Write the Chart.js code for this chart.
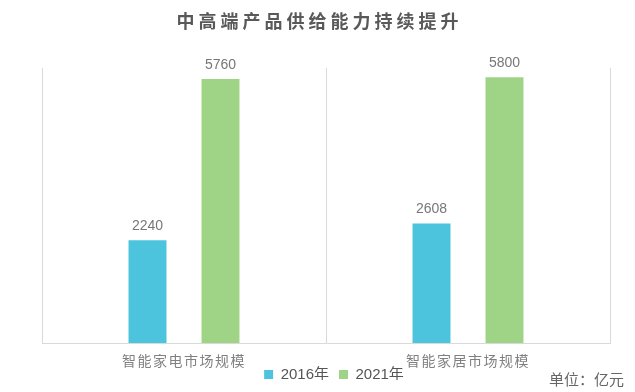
<!DOCTYPE html>
<html>
<head>
<meta charset="utf-8">
<script src="https://cdn.jsdelivr.net/npm/chart.js@4.4.1/dist/chart.umd.min.js"></script>
<style>
  html, body { margin: 0; padding: 0; background: #ffffff; }
  #wrap { position: relative; width: 635px; height: 392px; overflow: hidden; }
  #title { position: absolute; left: 0; width: 639px; top: 11px; text-align: center;
    font: 600 18px "Noto Sans CJK SC", sans-serif; line-height: 18px; letter-spacing: 4px; color: #595959; }
  #unit { position: absolute; right: 11px; top: 371px;
    font: 400 15px "Noto Sans CJK SC", sans-serif; line-height: 15px; color: #666666; }
  canvas { position: absolute; left: 0; top: 0; }
</style>
</head>
<body>
<div id="wrap">
  <canvas id="c" width="635" height="392"></canvas>
  <div id="title">中高端产品供给能力持续提升</div>
  <div id="unit">单位：亿元</div>
</div>
<script>
const categories = ['智能家电市场规模', '智能家居市场规模'];
const seriesNames = ['2016年', '2021年'];
const values2016 = [2240, 2608];
const values2021 = [5760, 5800];
const yMin = 0;
const yMax = 6000;

const valueLabels = {
  id: 'valueLabels',
  afterDatasetsDraw(chart) {
    const ctx = chart.ctx;
    ctx.save();
    ctx.letterSpacing = '0px';
    ctx.font = '14px "Liberation Sans", Arial, sans-serif';
    ctx.fillStyle = '#777777';
    ctx.textAlign = 'center';
    ctx.textBaseline = 'alphabetic';
    chart.data.datasets.forEach((ds, di) => {
      chart.getDatasetMeta(di).data.forEach((bar, i) => {
        ctx.fillText(String(ds.data[i]), bar.x, bar.y - 10);
      });
    });
    ctx.restore();
    // tick labels (drawn after datasets, ticks.z = 1) get a slight letter spacing
    ctx.letterSpacing = '1.5px';
  },
  afterDraw(chart) {
    chart.ctx.letterSpacing = '0px';
  },
  afterLayout(chart) {
    const l = chart.legend;
    if (l) { l.left += 8; l.right += 8; l.top -= 12; l.bottom -= 12; }
  }
};

new Chart(document.getElementById('c'), {
  type: 'bar',
  data: {
    labels: categories,
    datasets: [
      { label: seriesNames[0], data: values2016, backgroundColor: '#4cc4de', borderWidth: 0,
        categoryPercentage: 0.514, barPercentage: 0.52 },
      { label: seriesNames[1], data: values2021, backgroundColor: '#9fd487', borderWidth: 0,
        categoryPercentage: 0.514, barPercentage: 0.52 }
    ]
  },
  options: {
    responsive: false,
    animation: false,
    layout: { padding: { left: 42, right: 25, top: 68, bottom: 0 } },
    plugins: {
      title: { display: false },
      tooltip: { enabled: false },
      legend: {
        display: true,
        position: 'bottom',
        maxHeight: 23,
        labels: {
          boxWidth: 9,
          boxHeight: 9,
          padding: 10,
          color: '#555555',
          font: { size: 15, family: '"Liberation Sans", "Noto Sans CJK SC", sans-serif' }
        }
      }
    },
    scales: {
      x: {
        offset: true,
        grid: { display: true, offset: true, drawTicks: false, color: '#d9d9d9', lineWidth: 1 },
        border: { display: true, color: '#d9d9d9', width: 1 },
        ticks: { z: 1, padding: 9, color: '#808080',
          font: { size: 14, family: '"Noto Sans CJK SC", sans-serif' } },
        afterFit(scale) { scale.height = 26; }
      },
      y: {
        display: false,
        min: yMin,
        max: yMax
      }
    }
  },
  plugins: [valueLabels]
});
</script>
</body>
</html>
